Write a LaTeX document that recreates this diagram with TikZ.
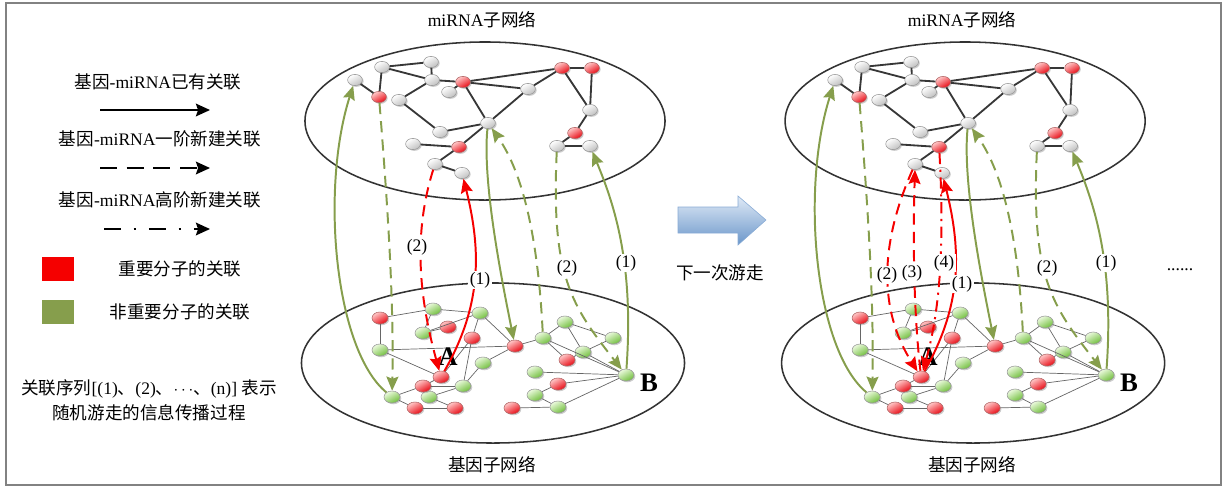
\documentclass[tikz,border=0pt]{standalone}
\usepackage{fontspec}
\setmainfont{Liberation Serif}
\newfontfamily\cjk{Noto Sans CJK SC}
\usetikzlibrary{arrows.meta,shapes.geometric,shadows}

\newcommand{\zh}[1]{{\cjk #1}}

\definecolor{leafgreen}{RGB}{134,158,76}
\definecolor{hotred}{RGB}{245,0,0}
\definecolor{linkgray}{RGB}{55,55,55}
\definecolor{nodered}{RGB}{232,10,20}
\definecolor{nodepink}{RGB}{255,200,200}
\definecolor{nodegreen}{RGB}{112,190,60}
\definecolor{nodemint}{RGB}{236,250,222}
\definecolor{walklight}{RGB}{224,234,246}
\definecolor{walkdark}{RGB}{106,150,202}
\definecolor{framegray}{RGB}{130,130,130}

% one random-walk panel: miRNA layer, gene layer and the green walks
\newcommand{\walkpanel}{%
  \node[layer, minimum width=9cm, minimum height=3.95cm] (mirnanet) at (485,121) {};
  \node[layer, minimum width=9.575cm, minimum height=4cm] (genenet) at (493,363) {};
  \node (mirnatitle) at (482,20) {miRNA\zh{子网络}};
  \node (genetitle) at (492,465) {\zh{基因子网络}};
  % miRNA subnetwork
  \foreach \n/\x/\y in {m1/355/80,m3/382/67,m4/431/62,m5/432/80,m7/449/92,m8/399/100,
      m9/528/89,m12/590/110,m14/557/146,m15/590/146,m16/488/123,m17/440/132,
      m19/413/144,m20/435/164,m21/462/173}
    \node[mnode] (\n) at (\x,\y) {};
  \foreach \n/\x/\y in {m2/379/97,m6/463/82,m10/562/68,m11/592/68,m13/575/133,m18/459/147}
    \node[mnode,keyred] (\n) at (\x,\y) {};
  \foreach \a/\b in {m1/m2,m2/m3,m3/m4,m3/m5,m4/m5,m5/m6,m5/m8,m6/m7,m6/m10,m6/m9,
      m9/m10,m6/m16,m16/m9,m10/m11,m10/m12,m11/m12,m12/m13,m13/m14,m14/m15,
      m8/m17,m17/m16,m16/m18,m19/m18,m18/m20,m20/m21}
    \draw[mlink] (\a) -- (\b);
  % gene subnetwork
  \foreach \n/\x/\y in {g2/433/309,g3/480/313,g5/423/333,g7/380/350,g9/483/363,
      g11/392/397,g13/463/386,g14/429/397,g17/543/338,g18/565/322,g19/613/338,
      g20/583/352,g22/535/372,gB/626/375,g25/535/395,g27/558/407}
    \node[gnode] (\n) at (\x,\y) {};
  \foreach \n/\x/\y in {g1/380/318,g4/448/327,g6/472/338,g8/515/346,gA/441/377,
      g12/423/386,g15/415/408,g16/455/408,g21/567/360,g24/558/384,g26/512/408}
    \node[gnode,keyred] (\n) at (\x,\y) {};
  \foreach \a/\b in {g1/g2,g2/g3,g1/g7,g2/g5,g5/g4,g5/g3,g7/g8,g7/gA,g3/g6,g3/g8,
      g6/gA,g6/g13,gA/g12,g12/g13,g11/g12,g11/g15,g15/g16,g14/g13,g14/g16,g9/g8,
      g9/g13,g8/g17,g17/g18,g18/g19,g18/g20,g19/g20,g20/g21,g21/g17,g17/gB,g20/gB,
      g22/gB,g24/gB,g27/gB,g24/g25,g25/g27,g26/g27}
    \draw[glink] (\a) -- (\b);
  \node[hub] (labA) at ([shift={(7,-20)}]gA) {A};
  \node[hub] (labB) at ([shift={(23,8)}]gB) {B};
  % walks between the layers
  \draw[walk,leafgreen] (g11) .. controls +(-57,-47) and +(-35,110) .. (m1);
  \draw[walk,leafgreen,firstorder] (m2) .. controls +(8,100) and +(2,-100) .. (g11);
  \draw[walk,leafgreen] (m16) .. controls +(-6,60) and +(-12,-60) .. (g8);
  \draw[walk,leafgreen,firstorder] (g17) .. controls +(-5,-100) and +(35,50) .. (m16);
  \draw[walk,leafgreen,firstorder] (m14) .. controls +(-6,130) and +(-55,-70) .. (gB);
  \draw[walk,leafgreen] (gB) .. controls +(8,-110) and +(25,60) .. (m15);
  \node[ordlabel] (gtwo) at (567,268) {(2)};
  \node[ordlabel] (gone) at (626,263) {(1)};
}

\begin{document}
\begin{tikzpicture}[x=0.025cm, y=-0.025cm, font=\fontsize{12.5}{15}\selectfont]

  \tikzstyle{layer}=[ellipse, draw=black!80, line width=1.1pt, inner sep=0pt]
  \tikzstyle{mnode}=[ellipse, inner sep=0pt, minimum width=0.37cm, minimum height=0.28cm,
      draw=black!40, line width=0.4pt, top color=white, bottom color=black!25, shading angle=30,
      drop shadow={shadow xshift=0.9pt, shadow yshift=-0.9pt, opacity=0.4}]
  \tikzstyle{keyred}=[draw=red!50!black!60, top color=nodepink, bottom color=nodered, shading angle=30]
  \tikzstyle{gnode}=[mnode, minimum width=0.4cm, minimum height=0.3cm,
      top color=nodemint, bottom color=nodegreen, shading angle=30]
  \tikzstyle{mlink}=[linkgray, line width=1.3pt]
  \tikzstyle{glink}=[black!60, line width=0.5pt]
  \tikzstyle{walk}=[line width=1.4pt, -{Stealth[length=10pt,width=8.5pt,inset=1.5pt]}]
  \tikzstyle{firstorder}=[dash pattern=on 8pt off 5pt]
  \tikzstyle{highorder}=[dash pattern=on 8pt off 4pt on 1.5pt off 4pt]
  \tikzstyle{ordlabel}=[fill=white, inner sep=1pt]
  \tikzstyle{hub}=[font=\fontsize{19}{20}\selectfont\bfseries]
  \tikzstyle{legend arrow}=[line width=1.4pt, -{Stealth[length=10pt,width=9pt,inset=1.5pt]}]
  \tikzstyle{keysq}=[minimum width=0.8cm, minimum height=0.6cm, inner sep=0pt]

  \useasboundingbox (0,0) rectangle (1225,489);
  \draw[framegray, line width=1.5pt] (6,3) rectangle (1221,485);

  % legend
  \node (legold) at (158,82) {\zh{基因}-miRNA\zh{已有关联}};
  \coordinate (oldfrom) at (100,110);
  \coordinate (oldto) at (210,110);
  \draw[legend arrow] (oldfrom) -- (oldto);
  \node (legfirst) at (160,139) {\zh{基因}-miRNA\zh{一阶新建关联}};
  \coordinate (firstfrom) at (100,168);
  \coordinate (firstto) at (210,168);
  \draw[legend arrow, dash pattern=on 12pt off 7pt] (firstfrom) -- (firstto);
  \node (leghigh) at (160,200) {\zh{基因}-miRNA\zh{高阶新建关联}};
  \coordinate (highfrom) at (104,229);
  \coordinate (highto) at (210,229);
  \draw[legend arrow, dash pattern=on 12pt off 9pt on 2pt off 9pt] (highfrom) -- (highto);
  \node[keysq, fill=hotred] (redkey) at (58,269) {};
  \node (redtext) at (180,269) {\zh{重要分子的关联}};
  \node[keysq, fill=leafgreen] (greenkey) at (58,312) {};
  \node (greentext) at (180,312) {\zh{非重要分子的关联}};
  \node (seqline) at (149,389) {\zh{关联序列}[(1)\zh{、}(2)\zh{、}$\cdots$\zh{、}(n)] \zh{表示}};
  \node (seqline2) at (149,413) {\zh{随机游走的信息传播过程}};

  % first step
  \begin{scope}[name prefix=L-]
    \walkpanel
  \end{scope}
  \draw[walk,hotred,firstorder] (L-m20) .. controls +(-22,70) and +(-22,-80) .. (L-gA);
  \draw[walk,hotred] (L-gA) .. controls +(40,-70) and +(20,80) .. (L-m21);
  \node[ordlabel] (Ltwo) at (417,247) {(2)};
  \node[ordlabel] (Lone) at (480,280) {(1)};

  % next walk
  \path[draw=walkdark!80, top color=walklight, bottom color=walkdark]
    (678,207) -- (738,207) -- (738,196) -- (766,220) -- (738,245) -- (738,233) -- (678,233) -- cycle;
  \node (nextwalk) at (720,273) {\zh{下一次游走}};

  % second step
  \begin{scope}[xshift=12cm, name prefix=R-]
    \walkpanel
  \end{scope}
  \draw[walk,hotred,firstorder] (R-m20) .. controls +(-40,90) and +(-38,-60) .. (R-gA);
  \draw[walk,hotred,firstorder] (R-gA) .. controls +(-8,-70) and +(-2,70) .. (R-m20);
  \draw[walk,hotred,highorder] (R-m18) .. controls +(5,90) and +(20,-70) .. (R-gA);
  \draw[walk,hotred] (R-gA) .. controls +(40,-70) and +(20,80) .. (R-m21);
  \node[ordlabel] (Rtwo) at (887,275) {(2)};
  \node[ordlabel] (Rthree) at (912,273) {(3)};
  \node[ordlabel] (Rfour) at (944,263) {(4)};
  \node[ordlabel] (Rone) at (962,284) {(1)};
  \node (more) at (1180,270) {......};

\end{tikzpicture}
\end{document}
